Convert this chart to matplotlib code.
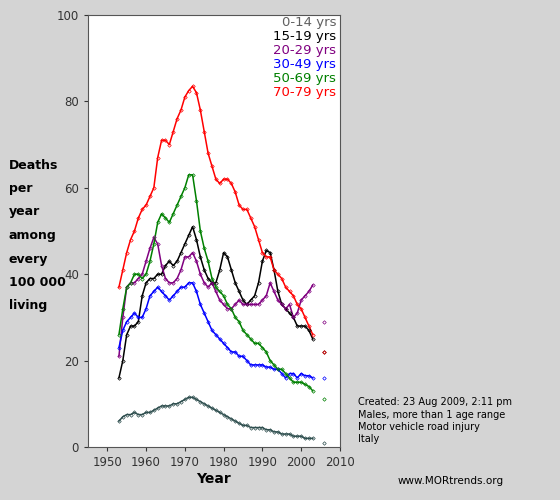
import matplotlib
matplotlib.use("Agg")
import matplotlib.pyplot as plt
import numpy as np

years = np.arange(1953, 2004)

age_labels = ["0-14 yrs", "15-19 yrs", "20-29 yrs", "30-49 yrs", "50-69 yrs", "70-79 yrs"]
colors = ["#2f4f4f", "#000000", "#800080", "#0000ff", "#008000", "#ff0000"]
label_colors = ["#606060", "#000000", "#800080", "#0000ff", "#008000", "#ff0000"]

rate_0_14 = [6, 7, 7.5, 7.5, 8, 7.5, 7.5, 8, 8, 8.5, 9, 9.5, 9.5, 9.5, 10, 10, 10.5, 11, 11.5, 11.5,
             11, 10.5, 10, 9.5, 9, 8.5, 8, 7.5, 7, 6.5, 6, 5.5, 5, 5, 4.5, 4.5, 4.5, 4.5, 4, 4,
             3.5, 3.5, 3, 3, 3, 2.5, 2.5, 2.5, 2, 2, 2]
rate_15_19 = [16, 20, 26, 28, 28, 29, 35, 38, 39, 39, 40, 40, 42, 43, 42, 43, 45, 47, 49, 51,
              48, 44, 41, 39, 38, 38, 41, 45, 44, 41, 38, 36, 34, 33, 34, 35, 38, 43, 45.5, 45,
              41, 36, 33, 32, 31, 30, 28, 28, 28, 27, 25]
rate_20_29 = [21, 30, 37, 38, 38, 39, 40, 43, 46, 48.5, 47, 42, 39, 38, 38, 39, 41, 44, 44, 45,
              43, 40, 38, 37, 38, 36, 34, 33, 32, 32, 33, 34, 33, 33, 33, 33, 33, 34, 35, 38,
              36, 34, 33, 32, 33, 30, 31, 34, 35, 36, 37.5]
rate_30_49 = [23, 27, 29, 30, 31, 30, 30, 32, 35, 36, 37, 36, 35, 34, 35, 36, 37, 37, 38, 38,
              36, 33, 31, 29, 27, 26, 25, 24, 23, 22, 22, 21, 21, 20, 19, 19, 19, 19, 18.5, 18.5,
              18, 18, 17, 16, 17, 17, 16, 17, 16.5, 16.5, 16]
rate_50_69 = [26, 32, 37, 38, 40, 40, 39, 40, 43, 47, 52, 54, 53, 52, 54, 56, 58, 60, 63, 63,
              57, 50, 46, 43, 39, 37, 36, 35, 33, 32, 30, 29, 27, 26, 25, 24, 24, 23, 22, 20,
              19, 18, 18, 17, 16, 15, 15, 15, 14.5, 14, 13]
rate_70_79 = [37, 41, 45, 48, 50, 53, 55, 56, 58, 60, 67, 71, 71, 70, 73, 76, 78, 81, 82.5, 83.5,
              82, 78, 73, 68, 65, 62, 61, 62, 62, 61, 59, 56, 55, 55, 53, 51, 48, 45, 44, 44,
              41, 40, 39, 37, 36, 35, 33, 32, 30, 28, 26]
extra_2006 = [1, 22, 29, 16, 11, 22]

series = [rate_0_14, rate_15_19, rate_20_29, rate_30_49, rate_50_69, rate_70_79]

fig = plt.figure(figsize=(5.6, 5.0), dpi=100, facecolor="#d4d4d4")
ax = fig.add_axes([0.157, 0.106, 0.45, 0.864])
ax.set_facecolor("white")

for vals, col, extra in zip(series, colors, extra_2006):
    ax.plot(years, vals, color=col, lw=1.1, zorder=2)
    ax.plot(years, vals, ls="none", marker="D", ms=1.8, mfc="none", mec=col, mew=0.5, zorder=3)
    ax.plot([2006], [extra], ls="none", marker="D", ms=1.8, mfc="none", mec=col, mew=0.5)

ax.set_xlim(1945, 2009)
ax.set_ylim(0, 100)
ax.set_xticks(np.arange(1950, 2011, 10))
ax.set_yticks(np.arange(0, 101, 20))
ax.tick_params(labelsize=8.5, colors="#333333", length=3)
for s in ax.spines.values():
    s.set_color("#555555")
ax.set_xlabel("Year", fontsize=10, fontweight="bold", labelpad=2)

for i, (lab, col) in enumerate(zip(age_labels, label_colors)):
    ax.text(0.985, 0.997 - i * 0.0325, lab, color=col, fontsize=9.5, ha="right", va="top",
            transform=ax.transAxes)

ylab = ["Deaths", "per", "year", "among", "every", "100 000", "living"]
for i, t in enumerate(ylab):
    fig.text(0.016, 1 - (165 + i * 23.5) / 500, t, fontsize=9, fontweight="bold", va="center")

notes = ["Created: 23 Aug 2009, 2:11 pm", "Males, more than 1 age range",
         "Motor vehicle road injury", "Italy"]
for i, t in enumerate(notes):
    fig.text(358 / 560, 1 - (402 + i * 12.5) / 500, t, fontsize=7, va="center")
fig.text(398 / 560, 1 - 481 / 500, "www.MORtrends.org", fontsize=7.5, va="center")

fig.savefig("out.png", dpi=100, facecolor=fig.get_facecolor())
